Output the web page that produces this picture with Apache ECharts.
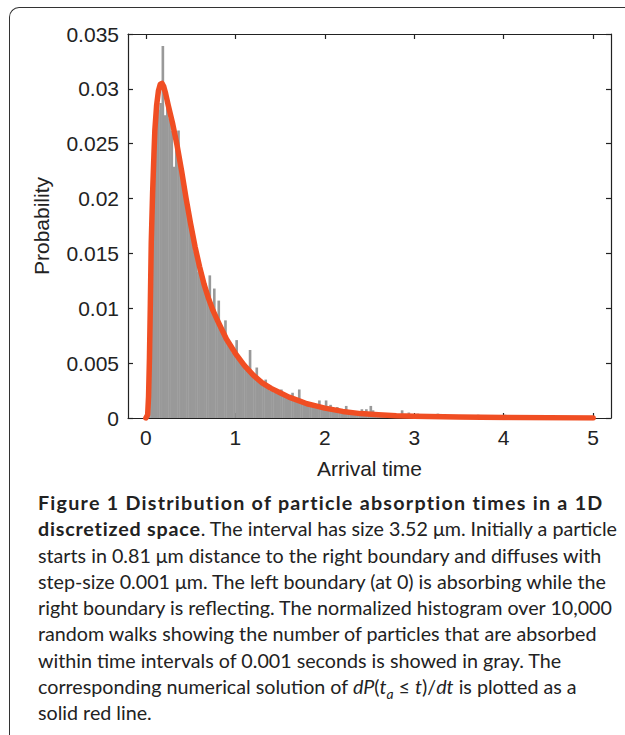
<!DOCTYPE html>
<html>
<head>
<meta charset="utf-8">
<script src="https://cdn.jsdelivr.net/npm/echarts@6/dist/echarts.min.js"></script>
<style>
  html, body { margin:0; padding:0; background:#fff; }
  #wrap { position:relative; width:625px; height:735px; overflow:hidden; }
  #frame { position:absolute; left:9px; top:7px; width:700px; height:800px;
           border-left:1.6px solid #333; border-top:1.6px solid #333; border-top-left-radius:10px; }
  #chart { position:absolute; left:0; top:0; width:625px; height:735px; }
  #caption { position:absolute; left:38px; top:490px; font-family:Lato, "Open Sans", sans-serif;
             font-size:19.7px; line-height:26.3px; color:#222; white-space:nowrap; }
  #caption b { font-weight:700; letter-spacing:1.25px; }
  #caption b.l2 { letter-spacing:0.8px; }
  #caption sub { font-size:70%; line-height:0; }
</style>
</head>
<body>
<div id="wrap">
  <div id="frame"></div>
  <div id="chart"></div>
  <div id="caption">
    <b>Figure 1 Distribution of particle absorption times in a 1D</b><br>
    <b class="l2">discretized space</b>. The interval has size 3.52 μm. Initially a particle<br>
    starts in 0.81 μm distance to the right boundary and diffuses with<br>
    step-size 0.001 μm. The left boundary (at 0) is absorbing while the<br>
    right boundary is reflecting. The normalized histogram over 10,000<br>
    random walks showing the number of particles that are absorbed<br>
    within time intervals of 0.001 seconds is showed in gray. The<br>
    corresponding numerical solution of <i>dP</i>(<i>t<sub>a</sub></i> ≤ <i>t</i>)/<i>dt</i> is plotted as a<br>
    solid red line.
  </div>
</div>
<script>
// ---- data ----
const binWidth = 0.025; // seconds per histogram bar (as drawn)
const histValues = [
  0.0004, 0.0052, 0.0172, 0.0241, 0.0268, 0.0281, 0.0287, 0.0339,
  0.0276, 0.0284, 0.0273, 0.0262, 0.0229, 0.0250, 0.0262, 0.0226,
  0.0214, 0.0199, 0.0192, 0.0178, 0.0168, 0.0152, 0.0153, 0.0133,
  0.0129, 0.0121, 0.0114, 0.0109, 0.0130, 0.0099, 0.0118, 0.0088,
  0.0107, 0.0081, 0.0076, 0.0089, 0.0069, 0.0064, 0.0060, 0.0058,
  0.0071, 0.0053, 0.0050, 0.0047, 0.0045, 0.0043, 0.0062, 0.0038,
  0.0036, 0.0046, 0.0032, 0.0034, 0.0030, 0.0035, 0.0027, 0.0025,
  0.0025, 0.0023, 0.0022, 0.0021, 0.0026, 0.0020, 0.0019, 0.0018,
  0.0017, 0.0023, 0.0015, 0.0015, 0.0026, 0.0013, 0.0013, 0.0012,
  0.0012, 0.0011, 0.0011, 0.0010, 0.0010, 0.0016, 0.0009, 0.0009,
  0.0016, 0.0008, 0.0012, 0.0007, 0.0007, 0.0010, 0.0006, 0.0006,
  0.0006, 0.0011, 0.0005, 0.0005, 0.0004, 0.0005, 0.0004, 0.0004,
  0.0008, 0.0004, 0.0008, 0.0003, 0.0011, 0.0007, 0.0003, 0.0003,
  0.0003, 0.0003, 0.0004, 0.0002, 0.0003, 0.0002, 0.0003, 0.0002,
  0.0003, 0.0003, 0.0007, 0.0002, 0.0002, 0.0005, 0.0002, 0.0002,
  0.0002, 0.0004, 0.0003, 0.0002, 0.0001, 0.0002, 0.0001, 0.0002,
  0.0001, 0.0003, 0.0004, 0.0001, 0.0001, 0.0002, 0.0001, 0.0001,
  0.0001, 0.0001, 0.0002, 0.0001, 0.0001, 0.0001, 0.0000, 0.0001,
  0.0001, 0.0000, 0.0001, 0.0001, 0.0003, 0.0001, 0.0000, 0.0001,
  0.0000, 0.0001, 0.0000, 0.0001, 0.0000, 0.0001, 0.0000, 0.0001,
  0.0003, 0.0000, 0.0001, 0.0000, 0.0000, 0.0001, 0.0000, 0.0000,
  0.0000, 0.0001, 0.0000, 0.0000, 0.0001, 0.0000, 0.0000, 0.0000,
  0.0000, 0.0000, 0.0001, 0.0000, 0.0000, 0.0000, 0.0001, 0.0000,
  0.0001, 0.0000, 0.0000, 0.0000, 0.0000, 0.0001, 0.0000, 0.0000,
  0.0000, 0.0000, 0.0000, 0.0001, 0.0000, 0.0000, 0.0000, 0.0000
];
const curveT = [0, 0.02, 0.03, 0.04, 0.05, 0.06, 0.075, 0.09, 0.10, 0.12, 0.14, 0.16, 0.18, 0.20, 0.22, 0.25,
  0.30, 0.35, 0.40, 0.45, 0.50, 0.55, 0.60, 0.65, 0.70, 0.75, 0.80, 0.90, 1.00, 1.10, 1.20, 1.30, 1.40,
  1.50, 1.60, 1.70, 1.80, 1.90, 2.00, 2.20, 2.40, 2.60, 2.80, 3.00, 3.50, 4.00, 4.50, 5.00];
const curveP = [0, 0.0003, 0.0020, 0.0055, 0.0105, 0.0160, 0.0205, 0.0240, 0.0262, 0.0285, 0.0298, 0.0304, 0.0305, 0.0302, 0.0296, 0.0285,
  0.0268, 0.0248, 0.0225, 0.0200, 0.0177, 0.0156, 0.0138, 0.0122, 0.0109, 0.0098, 0.0089, 0.0072, 0.0059, 0.0048, 0.0039, 0.0032, 0.0027,
  0.0023, 0.0019, 0.0016, 0.0013, 0.0011, 0.0009, 0.0006, 0.0004, 0.0003, 0.0002, 0.00015, 0.00008, 0.00004, 0.00002, 0.00001];
const xTicks = [0, 1, 2, 3, 4, 5];
const xMin = -0.2, xMax = 5.2;
const yMin = 0, yMax = 0.035, yStep = 0.005;

// ---- chart ----
const histData = histValues.map((v, i) => [i * binWidth, v]);
const curveData = curveT.map((t, i) => [t, curveP[i]]);
const axisFont = { fontFamily: 'Liberation Sans, Arial, sans-serif', fontSize: 21, color: '#222' };
const lineStyle = { color: '#222', width: 1.2 };

const chart = echarts.init(document.getElementById('chart'), null, { renderer: 'svg' });
chart.setOption({
  animation: false,
  backgroundColor: 'transparent',
  grid: { left: 128, right: 14, top: 34, bottom: 317 },
  xAxis: [{
    type: 'value', min: xMin, max: xMax, position: 'bottom',
    name: 'Arrival time', nameLocation: 'middle', nameGap: 40,
    nameTextStyle: axisFont,
    axisLine: { show: true, onZero: false, lineStyle },
    axisTick: { show: true, inside: true, length: 5, customValues: xTicks, lineStyle },
    axisLabel: { customValues: xTicks, margin: 9, ...axisFont },
    splitLine: { show: false }
  }, {
    type: 'value', min: xMin, max: xMax, position: 'top',
    axisLine: { show: true, onZero: false, lineStyle },
    axisTick: { show: true, inside: true, length: 5, customValues: xTicks, lineStyle },
    axisLabel: { show: false },
    splitLine: { show: false }
  }],
  yAxis: [{
    type: 'value', min: yMin, max: yMax, interval: yStep, position: 'left',
    name: 'Probability', nameLocation: 'middle', nameGap: 76, nameRotate: 90,
    nameTextStyle: axisFont,
    axisLine: { show: true, onZero: false, lineStyle },
    axisTick: { show: true, inside: true, length: 5, lineStyle },
    axisLabel: { margin: 9, ...axisFont, formatter: v => String(+v.toFixed(3)) },
    splitLine: { show: false }
  }, {
    type: 'value', min: yMin, max: yMax, interval: yStep, position: 'right',
    axisLine: { show: true, onZero: false, lineStyle },
    axisTick: { show: true, inside: true, length: 5, lineStyle },
    axisLabel: { show: false },
    splitLine: { show: false }
  }],
  series: [{
    type: 'custom',
    xAxisIndex: 0, yAxisIndex: 0,
    data: histData,
    clip: true,
    renderItem: function (params, api) {
      const t = api.value(0), v = api.value(1);
      const p = api.coord([t, v]);
      const s = api.size([binWidth, v]);
      return {
        type: 'rect',
        shape: { x: p[0], y: p[1], width: s[0] + 0.4, height: s[1] },
        style: { fill: '#999999', stroke: null }
      };
    }
  }, {
    type: 'line',
    xAxisIndex: 0, yAxisIndex: 0,
    data: curveData,
    showSymbol: false, symbol: 'none',
    smooth: false,
    lineStyle: { color: '#F04E23', width: 5.5, join: 'round', cap: 'round' },
    z: 5
  }]
});
</script>
</body>
</html>
